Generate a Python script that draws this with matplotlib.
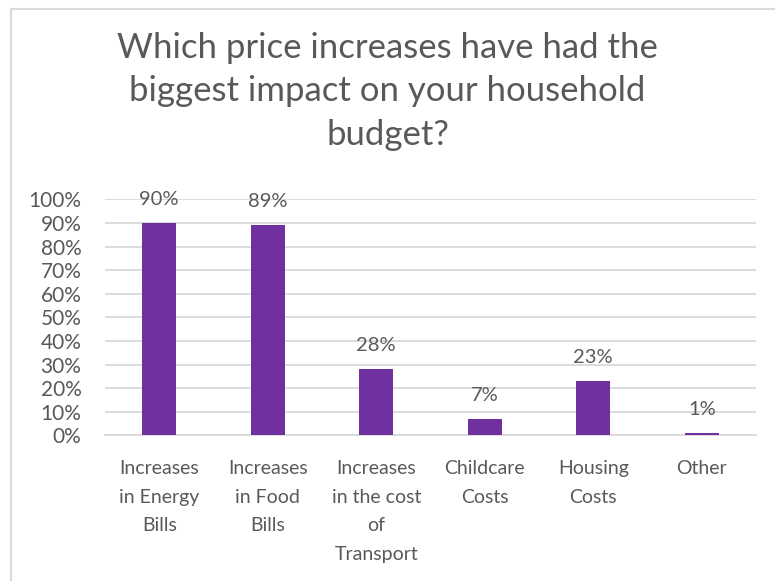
import matplotlib

matplotlib.use("Agg")

import matplotlib.pyplot as plt  # noqa: E402
from matplotlib.lines import Line2D  # noqa: E402

categories = [
    "Increases\nin Energy\nBills",
    "Increases\nin Food\nBills",
    "Increases\nin the cost\nof\nTransport",
    "Childcare\nCosts",
    "Housing\nCosts",
    "Other",
]
shares = [90, 89, 28, 7, 23, 1]
y_ticks = list(range(0, 101, 10))

TEXT = "#595959"
GRID = "#d9d9d9"
BAR = "#7030a0"

plt.rcParams["font.family"] = ["Lato", "DejaVu Sans"]

fig = plt.figure(figsize=(7.75, 5.81), dpi=100)
ax = fig.add_axes([105 / 775, 0.2505, 651 / 775, 0.4062])

x = range(len(categories))
ax.bar(x, shares, width=0.31, color=BAR, zorder=3)
for xi, v in zip(x, shares):
    ax.annotate(f"{v}%", (xi, v), xytext=(0, 11), textcoords="offset points",
                ha="center", va="bottom", fontsize=14.5, color=TEXT)

ax.set_xlim(-0.5, len(categories) - 0.5)
ax.set_ylim(0, 100)
ax.set_yticks(y_ticks)
ax.set_yticklabels([f"{t}%" for t in y_ticks])
ax.set_xticks(list(x))
ax.set_xticklabels(categories, linespacing=1.82)
ax.tick_params(axis="both", length=0, labelsize=14, labelcolor=TEXT)
ax.tick_params(axis="y", labelsize=15, pad=17)
ax.tick_params(axis="x", pad=18)
ax.grid(axis="y", color=GRID, linewidth=1.3, zorder=0)
for side in ("top", "right", "left"):
    ax.spines[side].set_visible(False)
ax.spines["bottom"].set_color(GRID)
ax.spines["bottom"].set_linewidth(1.3)

fig.text(0.5, 1 - 32 / 581, "Which price increases have had the\nbiggest impact on your household\nbudget?",
         ha="center", va="top", fontsize=25, color=TEXT, linespacing=1.44)

# chart area outline (top and left edges)
fig.add_artist(Line2D([11 / 775, 11 / 775, 1], [0, 1 - 9 / 581, 1 - 9 / 581],
                      transform=fig.transFigure, color=GRID, linewidth=1.5))

fig.savefig("out.png", dpi=100)
